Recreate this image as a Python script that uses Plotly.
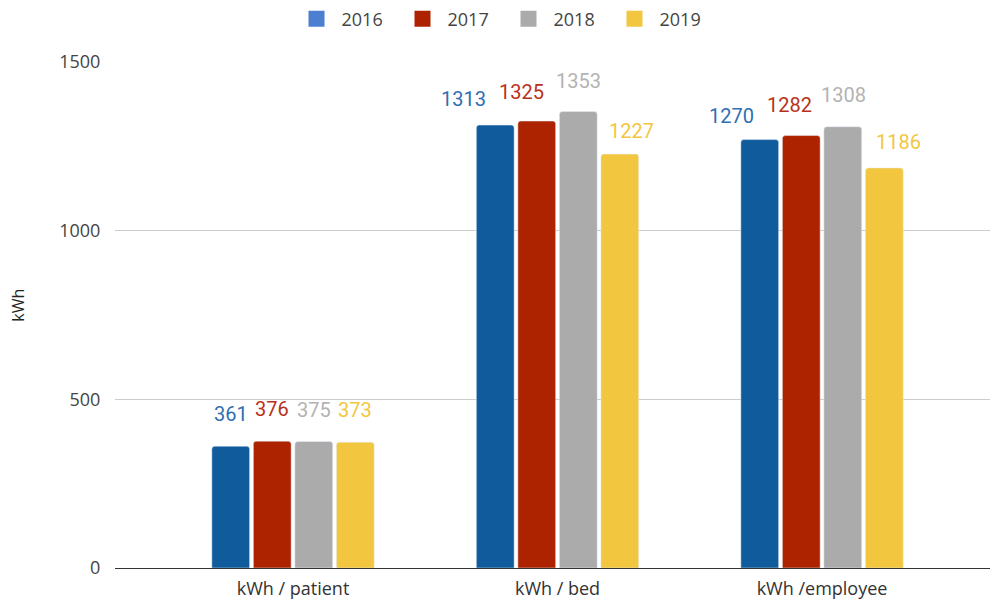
import plotly.graph_objects as go

categories = ["kWh / patient", "kWh / bed", "kWh /employee"]
years = ["2016", "2017", "2018", "2019"]
values = {
    "2016": [361, 1313, 1270],
    "2017": [376, 1325, 1282],
    "2018": [375, 1353, 1308],
    "2019": [373, 1227, 1186],
}
y_ticks = [0, 500, 1000, 1500]

bar_colors = {"2016": "#0f5b9c", "2017": "#ad2300", "2018": "#ababab", "2019": "#f2c73f"}
legend_colors = {"2016": "#4d7fd0", "2017": "#ad2300", "2018": "#ababab", "2019": "#f2c73f"}
label_colors = {"2016": "#2f6fb2", "2017": "#b8321a", "2018": "#b3b3b3", "2019": "#f2c73f"}

# label nudges (px) used to avoid overlapping value labels: (dx, dy-down) per year per category
label_nudge = {
    "2016": [(0, 0), (-32, 6), (-28, 8)],
    "2017": [(0, 0), (-15, 3), (-12, 1)],
    "2018": [(0, 0), (0, 1), (1, 0)],
    "2019": [(0, 0), (12, 9), (14, 6)],
}

BARGAP = 0.372
fig = go.Figure()
for y in years:
    fig.add_trace(go.Bar(
        x=categories, y=values[y], name=y, marker_color=bar_colors[y],
        showlegend=False, hoverinfo="skip",
    ))
for y in years:
    fig.add_trace(go.Scatter(
        x=[None], y=[None], name=y, mode="markers",
        marker=dict(symbol="square", size=22, color=legend_colors[y]),
        showlegend=True,
    ))

slot = (1 - BARGAP) / len(years)
for ti, y in enumerate(years):
    for ci, v in enumerate(values[y]):
        dx, dy = label_nudge[y][ci]
        fig.add_annotation(
            x=ci + (ti - (len(years) - 1) / 2) * slot, y=v, xref="x", yref="y",
            text=str(v), showarrow=False, yanchor="bottom",
            yshift=18 - dy, xshift=dx,
            font=dict(family="Roboto", size=20, color=label_colors[y]),
        )

fig.add_annotation(
    text="kWh", xref="paper", yref="paper", x=-0.111, y=0.52,
    xanchor="center", yanchor="middle", textangle=-90, showarrow=False,
    font=dict(family="Open Sans", size=16, color="#222"),
)

fig.update_layout(
    width=991, height=601,
    margin=dict(l=115, r=1, t=62, b=33),
    paper_bgcolor="white", plot_bgcolor="white",
    barmode="group", bargap=BARGAP, bargroupgap=0.09, barcornerradius=3,
    font=dict(family="Open Sans", size=16, color="#444"),
    legend=dict(orientation="h", x=0.444, xanchor="center", y=1.085, yanchor="middle",
                font=dict(family="Open Sans", size=18, color="#444"),
                entrywidth=51, itemwidth=40, itemclick=False),
    xaxis=dict(type="category", range=[-0.673, 2.635], showgrid=False,
               showline=True, linecolor="#333", linewidth=1,
               tickfont=dict(family="Open Sans", size=18, color="#333"),
               ticks="outside", ticklen=4, tickcolor="rgba(0,0,0,0)"),
    yaxis=dict(range=[0, 1500], tickvals=y_ticks, showgrid=True, gridcolor="#cccccc",
               zeroline=False, tickfont=dict(family="Open Sans", size=18, color="#444"),
               ticks="outside", ticklen=10, tickcolor="rgba(0,0,0,0)"),
)
fig.write_html("out.html", config={"displayModeBar": False},
               post_script="document.body.style.margin='0';")
